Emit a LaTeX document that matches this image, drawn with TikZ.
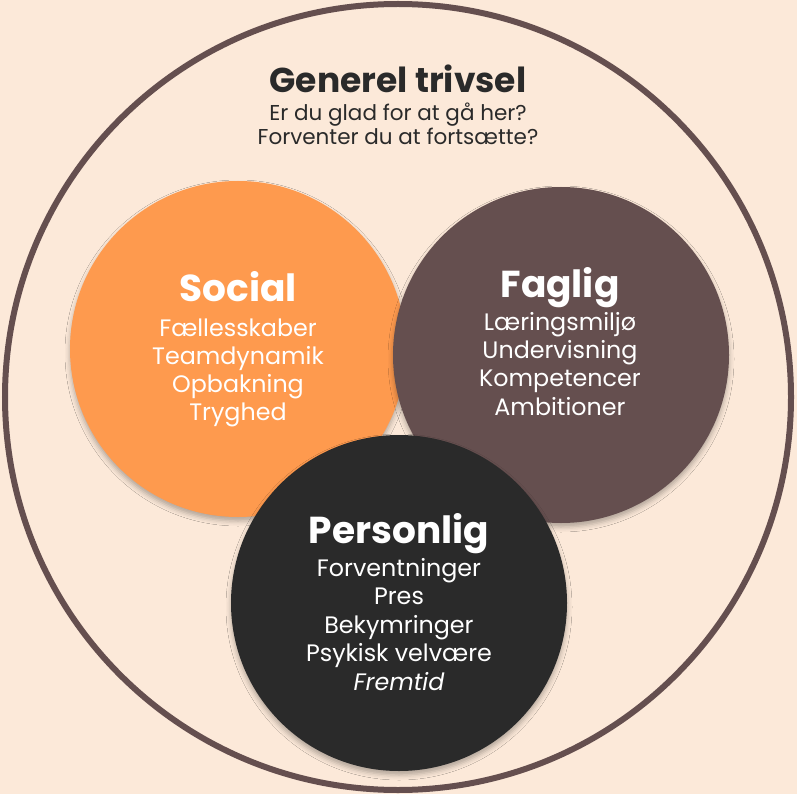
\documentclass[tikz,border=0pt]{standalone}
\usepackage{fontspec}
\setmainfont{Poppins}
\usetikzlibrary{shadows.blur}
\definecolor{bg}{HTML}{FCE9D9}
\definecolor{brownc}{HTML}{654F4F}
\definecolor{orangec}{HTML}{FE9A4E}
\definecolor{darkc}{HTML}{2A2A2A}
\tikzset{
  bubble/.style={circle, minimum size=336pt, inner sep=0pt, blur shadow={shadow xshift=0pt, shadow yshift=-4pt, shadow blur radius=5pt, shadow opacity=30}},
  head/.style={anchor=base, font=\fontsize{37.5}{44}\selectfont\bfseries, text=white, inner sep=0pt},
  item/.style={anchor=base, font=\fontsize{23.8}{28}\selectfont, text=white, inner sep=0pt},
  sub/.style={anchor=base, font=\fontsize{21.5}{25}\selectfont, text=darkc, inner sep=0pt},
}
\begin{document}
\begin{tikzpicture}[x=1pt, y=-1pt]
\fill[bg] (0,0) rectangle (797,794);
\useasboundingbox (0,0) rectangle (797,794);
\node[circle, minimum size=786pt, inner sep=0pt, draw=brownc, line width=6pt] (outer) at (398,397) {};
\node[head, text=darkc, font=\fontsize{34.5}{40}\selectfont\bfseries] (title) at (398,92.7) {Generel trivsel};
\node[sub] (q1) at (398,121) {Er du glad for at gå her?};
\node[sub] (q2) at (398,145) {Forventer du at fortsætte?};
\node[bubble, fill=orangec] (soc) at (238,349) {};
\node[bubble, fill=brownc] (fag) at (561,355) {};
\node[bubble, fill=darkc] (per) at (399,603) {};
\node[head] (sh) at (238,301.7) {Social};
\node[item] (s1) at (238,336) {Fællesskaber};
\node[item] (s2) at (238,364.3) {Teamdynamik};
\node[item] (s3) at (238,392.6) {Opbakning};
\node[item] (s4) at (238,420.9) {Tryghed};
\node[head] (fh) at (560,297.3) {Faglig};
\node[item] (f1) at (560,330) {Læringsmiljø};
\node[item] (f2) at (560,358.3) {Undervisning};
\node[item] (f3) at (560,386.6) {Kompetencer};
\node[item] (f4) at (560,415) {Ambitioner};
\node[head] (ph) at (399,543.3) {Personlig};
\node[item] (p1) at (399,576) {Forventninger};
\node[item] (p2) at (399,604.5) {Pres};
\node[item] (p3) at (399,633) {Bekymringer};
\node[item] (p4) at (399,661.5) {Psykisk velvære};
\node[item, font=\fontsize{23.8}{28}\selectfont\itshape] (p5) at (399,690) {Fremtid};
\end{tikzpicture}
\end{document}
